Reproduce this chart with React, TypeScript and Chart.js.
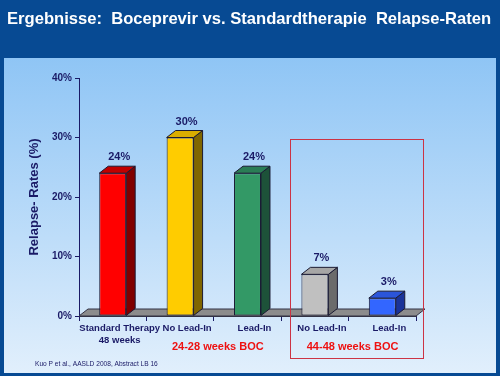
import React, { useEffect, useRef } from 'react';
import { Chart, registerables } from 'chart.js';

Chart.register(...registerables);

const TITLE = 'Ergebnisse:  Boceprevir vs. Standardtherapie  Relapse-Raten';
const categories: (string | string[])[] = [['Standard Therapy', '48 weeks'], 'No Lead-In', 'Lead-In', 'No Lead-In', 'Lead-In'];
const relapseRates = [24, 30, 24, 7, 3];
const valueLabels = ['24%', '30%', '24%', '7%', '3%'];
const yMax = 40;
const yStep = 10;
const yAxisTitle = 'Relapse- Rates (%)';
const groupLabels = ['24-28 weeks BOC', '44-48 weeks BOC'];
const groupRanges = [[1, 2], [3, 4]];
const footnote = 'Kuo P et al., AASLD 2008, Abstract LB 16';

const FRONT = ['#ff0000', '#ffcc00', '#339966', '#c0c0c0', '#3366ff'];
const SIDE = ['#800000', '#806600', '#1d5239', '#6b6b6b', '#1a3399'];
const TOPC = ['#c00000', '#d9ad00', '#2a7d55', '#a6a6a6', '#2b55d9'];

const NAVY = '#1a1a66';
const FONT = '"Liberation Sans", Arial, sans-serif';
const DX = 9;
const DY = 7;

const poly = (ctx: CanvasRenderingContext2D, pts: number[][], fill: string, stroke: string) => {
  ctx.beginPath();
  ctx.moveTo(pts[0][0], pts[0][1]);
  for (let i = 1; i < pts.length; i++) ctx.lineTo(pts[i][0], pts[i][1]);
  ctx.closePath();
  ctx.fillStyle = fill;
  ctx.fill();
  ctx.strokeStyle = stroke;
  ctx.lineWidth = 1;
  ctx.stroke();
};

const decor = {
  id: 'decor',
  beforeDraw(chart: any) {
    const { ctx, width, height } = chart;
    ctx.save();
    ctx.fillStyle = '#074a93';
    ctx.fillRect(0, 0, width, height);
    const g = ctx.createLinearGradient(0, 58, 0, height - 3);
    g.addColorStop(0, '#8fc5f5');
    g.addColorStop(1, '#e1effc');
    ctx.fillStyle = g;
    ctx.fillRect(4, 58, width - 8, height - 61);
    ctx.fillStyle = '#ffffff';
    ctx.font = `bold 16.6px ${FONT}`;
    ctx.textBaseline = 'middle';
    ctx.textAlign = 'left';
    ctx.fillText(TITLE, 7, 19);
    ctx.restore();
  },
  beforeDatasetsDraw(chart: any) {
    const { ctx } = chart;
    const xs = chart.scales.x;
    const ys = chart.scales.y;
    const y0 = ys.getPixelForValue(0);
    ctx.save();
    poly(ctx, [[xs.left, y0], [xs.right, y0], [xs.right + DX, y0 - DY], [xs.left + DX, y0 - DY]], '#8c8c8c', '#333344');
    ctx.restore();
  },
  afterDatasetsDraw(chart: any) {
    const { ctx } = chart;
    const meta = chart.getDatasetMeta(0);
    ctx.save();
    meta.data.forEach((bar: any, i: number) => {
      const l = bar.x - bar.width / 2;
      const r = bar.x + bar.width / 2;
      const t = bar.y;
      const b = bar.base;
      poly(ctx, [[r, t], [r + DX, t - DY], [r + DX, b - DY], [r, b]], SIDE[i], '#1a1a33');
      poly(ctx, [[l, t], [r, t], [r + DX, t - DY], [l + DX, t - DY]], TOPC[i], '#1a1a33');
      ctx.fillStyle = NAVY;
      ctx.font = `bold 11px ${FONT}`;
      ctx.textAlign = 'center';
      ctx.textBaseline = 'middle';
      ctx.fillText(valueLabels[i], bar.x + DX / 2 + 2, t - DY - 9);
    });
    ctx.restore();
  },
  afterDraw(chart: any) {
    const { ctx, height } = chart;
    const xs = chart.scales.x;
    const ys = chart.scales.y;
    ctx.save();
    // red frame around the 44-48 weeks group
    const x1 = (xs.getPixelForValue(2) + xs.getPixelForValue(3)) / 2 + 9;
    const x2 = xs.right + 7;
    const y1 = ys.getPixelForValue(30) + 1;
    const y2 = height - 19;
    ctx.strokeStyle = '#cc3344';
    ctx.lineWidth = 1;
    ctx.strokeRect(Math.round(x1) + 0.5, Math.round(y1) + 0.5, Math.round(x2 - x1), Math.round(y2 - y1));
    ctx.fillStyle = '#ee1111';
    ctx.font = `bold 11px ${FONT}`;
    ctx.textAlign = 'center';
    ctx.textBaseline = 'middle';
    groupLabels.forEach((lab, i) => {
      const [a, b] = groupRanges[i];
      const cx = (xs.getPixelForValue(a) + xs.getPixelForValue(b)) / 2 + 4;
      ctx.fillText(lab, cx, 347);
    });
    ctx.fillStyle = NAVY;
    ctx.font = `6.6px ${FONT}`;
    ctx.textAlign = 'left';
    ctx.fillText(footnote, 35, 364);
    ctx.restore();
  },
};

export default function App() {
  const ref = useRef<HTMLCanvasElement>(null);
  useEffect(() => {
    if (!ref.current) return;
    const chart = new Chart(ref.current, {
      type: 'bar',
      data: {
        labels: categories,
        datasets: [
          {
            data: relapseRates,
            backgroundColor: FRONT,
            borderColor: '#1a1a33',
            borderWidth: 1,
            borderSkipped: false,
            categoryPercentage: 1,
            barPercentage: 0.4,
          },
        ],
      },
      plugins: [decor],
      options: {
        animation: false,
        responsive: false,
        devicePixelRatio: 1,
        layout: { padding: { top: 78, right: 84, left: 0, bottom: 0 } },
        plugins: { legend: { display: false }, tooltip: { enabled: false }, title: { display: false } },
        scales: {
          x: {
            offset: true,
            afterFit: (s: any) => { s.height = 60; },
            grid: { display: true, drawOnChartArea: false, drawTicks: true, tickLength: 5, color: NAVY, offset: true },
            border: { display: true, color: '#333344' },
            ticks: {
              color: NAVY,
              font: { family: FONT, size: 9.5, weight: 'bold', lineHeight: 1.2 },
              padding: 2,
              labelOffset: 7,
              maxRotation: 0,
              autoSkip: false,
            },
          },
          y: {
            min: 0,
            max: yMax,
            afterFit: (s: any) => { s.width = 79; },
            grid: { display: true, drawOnChartArea: false, drawTicks: true, tickLength: 4, color: NAVY },
            border: { display: true, color: NAVY },
            ticks: {
              stepSize: yStep,
              color: NAVY,
              padding: 3,
              font: { family: FONT, size: 10, weight: 'bold' },
              callback: (v: any) => `${v}%`,
            },
            title: {
              display: true,
              text: yAxisTitle,
              color: NAVY,
              font: { family: FONT, size: 13, weight: 'bold', lineHeight: 1.2 },
              padding: { top: 27, bottom: 0 },
            },
          },
        },
      } as any,
    });
    return () => chart.destroy();
  }, []);
  return (
    <div style={{ position: 'fixed', left: 0, top: 0, width: 500, height: 376 }}>
      <canvas ref={ref} width={500} height={376} style={{ display: 'block' }} />
    </div>
  );
}
